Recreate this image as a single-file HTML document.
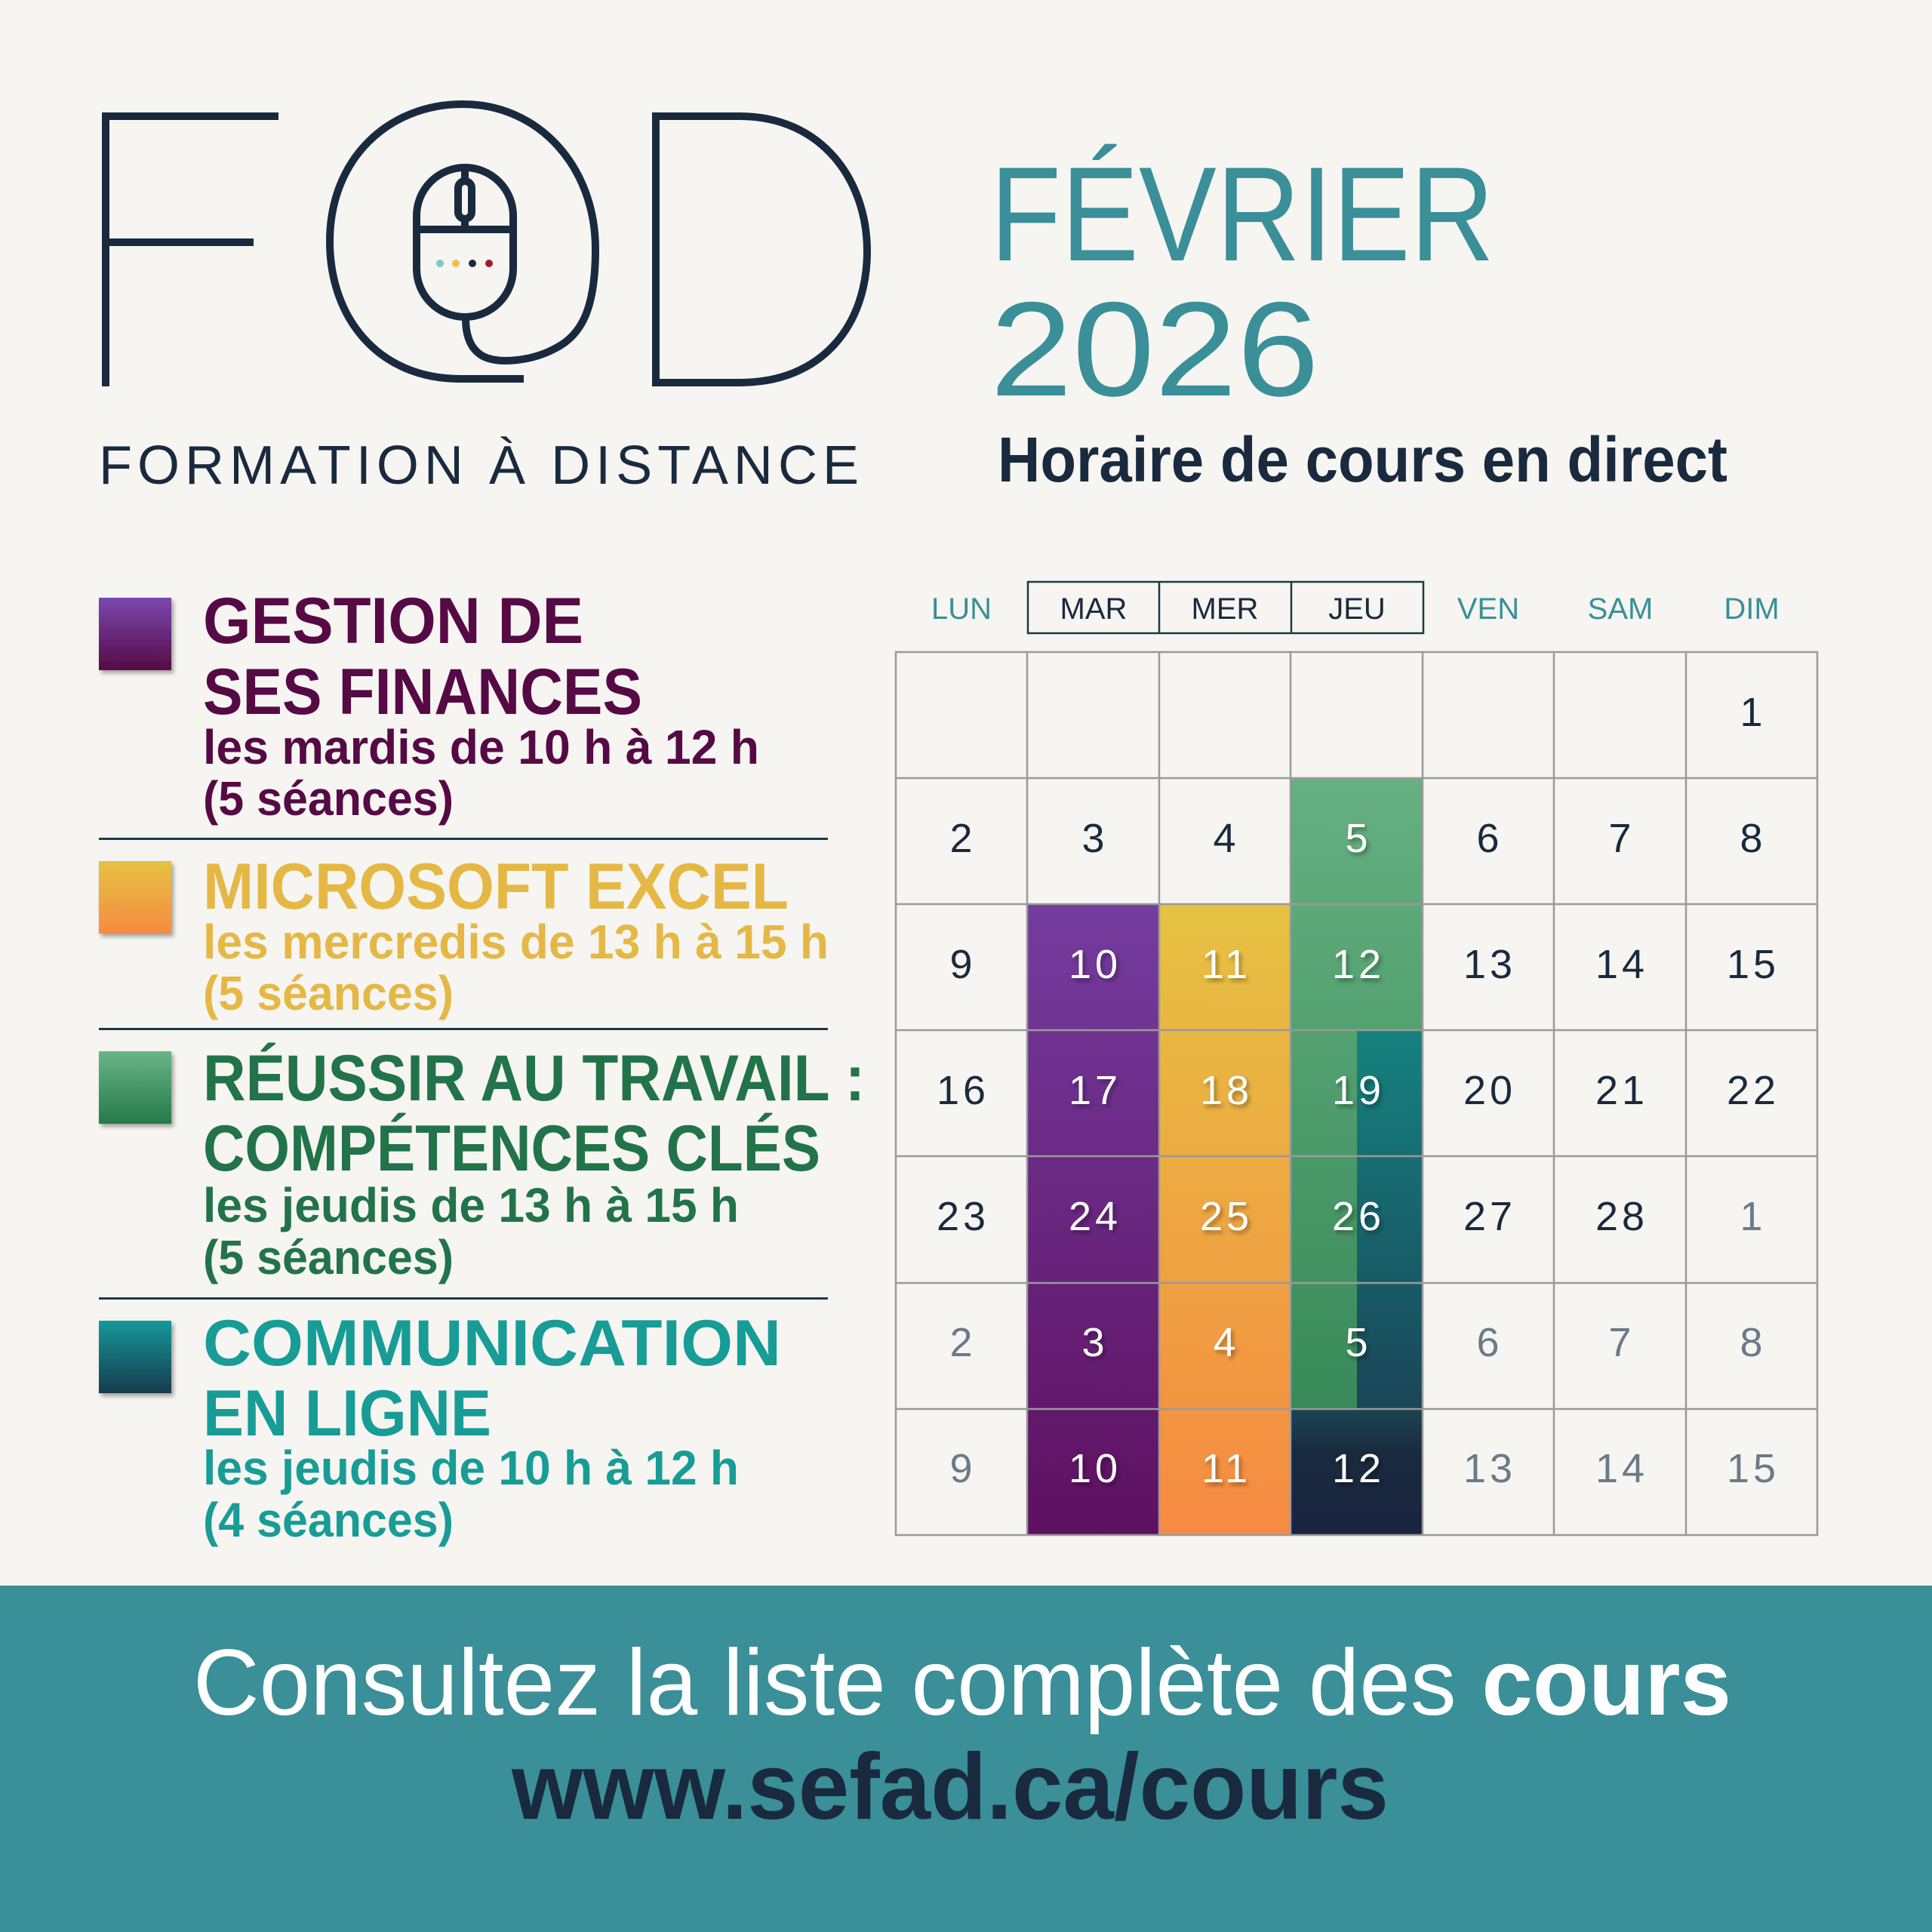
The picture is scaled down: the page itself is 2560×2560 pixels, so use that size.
<!DOCTYPE html>
<html><head><meta charset="utf-8"><style>
html,body{margin:0;padding:0;background:#f6f5f1;}
svg{display:block;}
text{font-family:"Liberation Sans",sans-serif;}
</style></head><body>
<svg width="2560" height="2560" viewBox="0 0 2560 2560" xmlns="http://www.w3.org/2000/svg">
<defs>
<linearGradient id="gp" x1="0" y1="0" x2="0" y2="1"><stop offset="0" stop-color="#743c9f"/><stop offset="1" stop-color="#5e1060"/></linearGradient>
<linearGradient id="gy" x1="0" y1="0" x2="0" y2="1"><stop offset="0" stop-color="#e6c242"/><stop offset="1" stop-color="#f68a42"/></linearGradient>
<linearGradient id="gg" x1="0" y1="0" x2="0" y2="1"><stop offset="0" stop-color="#66b082"/><stop offset="1" stop-color="#388a58"/></linearGradient>
<linearGradient id="gt" x1="0" y1="0" x2="0" y2="1"><stop offset="0" stop-color="#15827f"/><stop offset="1" stop-color="#1a4658"/></linearGradient>
<linearGradient id="gn" x1="0" y1="0" x2="0" y2="1"><stop offset="0" stop-color="#1b4452"/><stop offset="0.35" stop-color="#1a2a3e"/><stop offset="1" stop-color="#1a2540"/></linearGradient>
<linearGradient id="sp" x1="0" y1="0" x2="0" y2="1"><stop offset="0" stop-color="#7a48b0"/><stop offset="1" stop-color="#560a45"/></linearGradient>
<linearGradient id="sy" x1="0" y1="0" x2="0" y2="1"><stop offset="0" stop-color="#e6c242"/><stop offset="1" stop-color="#f68a42"/></linearGradient>
<linearGradient id="sg" x1="0" y1="0" x2="0" y2="1"><stop offset="0" stop-color="#6ab486"/><stop offset="1" stop-color="#247a48"/></linearGradient>
<linearGradient id="st" x1="0" y1="0" x2="0" y2="1"><stop offset="0" stop-color="#15989a"/><stop offset="1" stop-color="#193a4e"/></linearGradient>
<filter id="sh"><feDropShadow dx="3" dy="4" stdDeviation="3" flood-color="#000" flood-opacity="0.35"/></filter>
</defs>
<rect width="2560" height="2560" fill="#f6f5f1"/>

<g fill="none" stroke="#1a2a3e" stroke-width="10">
<path d="M140,512 V154 H369 M140,321 H336"/>
<path d="M869,512 V154 H980 C1090,154 1149,240 1149,333 C1149,430 1090,507 980,507 H869"/>
<path d="M694,502 L610,502 C500,502 437,420 437,320 C437,210 515,138 613,138 C715,138 789,222 789,330 C789,410 770,445 735,462 C705,478 662,483 640,472 C622,462 617,442 617,422"/>
<rect x="552" y="222" width="128" height="198" rx="64"/>
<path d="M552,304 H680 M616,222 V304"/>
<rect x="607" y="240" width="18" height="50" rx="9" fill="#f6f5f1"/>
</g>
<circle cx="583" cy="349" r="5" fill="#7ecac6"/>
<circle cx="604" cy="349" r="5" fill="#e9c24f"/>
<circle cx="626" cy="349" r="5" fill="#1a2a3e"/>
<circle cx="648" cy="349" r="5" fill="#a6192e"/>
<text x="131" y="641" font-size="72" fill="#1a2a3e" textLength="1007" lengthAdjust="spacing">FORMATION À DISTANCE</text>

<text x="1312" y="345" font-size="178" fill="#3a8f98" textLength="668" lengthAdjust="spacingAndGlyphs">FÉVRIER</text>
<text x="1312" y="524" font-size="178" fill="#3a8f98" textLength="436" lengthAdjust="spacingAndGlyphs">2026</text>
<text x="1322" y="638" font-size="84" font-weight="bold" fill="#1a2a3e" textLength="967" lengthAdjust="spacingAndGlyphs">Horaire de cours en direct</text>

<g font-weight="bold">
<rect x="131" y="792" width="96" height="96" fill="url(#sp)" filter="url(#sh)"/>
<text x="269" y="852" font-size="86" fill="#560a45" textLength="504" lengthAdjust="spacingAndGlyphs">GESTION DE</text>
<text x="269" y="946" font-size="86" fill="#560a45" textLength="582" lengthAdjust="spacingAndGlyphs">SES FINANCES</text>
<text x="269" y="1012" font-size="64" fill="#560a45" textLength="737" lengthAdjust="spacingAndGlyphs">les mardis de 10 h à 12 h</text>
<text x="269" y="1080" font-size="64" fill="#560a45" textLength="332" lengthAdjust="spacingAndGlyphs">(5 séances)</text>
<rect x="131" y="1110" width="966" height="3" fill="#1a3a48"/>

<rect x="131" y="1141" width="96" height="96" fill="url(#sy)" filter="url(#sh)"/>
<text x="269" y="1204" font-size="86" fill="#e5b846" textLength="776" lengthAdjust="spacingAndGlyphs">MICROSOFT EXCEL</text>
<text x="269" y="1270" font-size="64" fill="#e5b846" textLength="829" lengthAdjust="spacingAndGlyphs">les mercredis de 13 h à 15 h</text>
<text x="269" y="1338" font-size="64" fill="#e5b846" textLength="332" lengthAdjust="spacingAndGlyphs">(5 séances)</text>
<rect x="131" y="1362" width="966" height="3" fill="#1a3a48"/>

<rect x="131" y="1393" width="96" height="96" fill="url(#sg)" filter="url(#sh)"/>
<text x="269" y="1458" font-size="86" fill="#22734a" textLength="877" lengthAdjust="spacingAndGlyphs">RÉUSSIR AU TRAVAIL :</text>
<text x="269" y="1551" font-size="86" fill="#22734a" textLength="818" lengthAdjust="spacingAndGlyphs">COMPÉTENCES CLÉS</text>
<text x="269" y="1619" font-size="64" fill="#22734a" textLength="710" lengthAdjust="spacingAndGlyphs">les jeudis de 13 h à 15 h</text>
<text x="269" y="1688" font-size="64" fill="#22734a" textLength="332" lengthAdjust="spacingAndGlyphs">(5 séances)</text>
<rect x="131" y="1719" width="966" height="3" fill="#1a3a48"/>

<rect x="131" y="1750" width="96" height="96" fill="url(#st)" filter="url(#sh)"/>
<text x="269" y="1809" font-size="86" fill="#179c96" textLength="766" lengthAdjust="spacingAndGlyphs">COMMUNICATION</text>
<text x="269" y="1902" font-size="86" fill="#179c96" textLength="382" lengthAdjust="spacingAndGlyphs">EN LIGNE</text>
<text x="269" y="1967" font-size="64" fill="#179c96" textLength="710" lengthAdjust="spacingAndGlyphs">les jeudis de 10 h à 12 h</text>
<text x="269" y="2036" font-size="64" fill="#179c96" textLength="332" lengthAdjust="spacingAndGlyphs">(4 séances)</text>
</g>

<rect x="1362" y="1198" width="174" height="836" fill="url(#gp)"/>
<rect x="1536" y="1198" width="175" height="836" fill="url(#gy)"/>
<rect x="1711" y="1031" width="175" height="836" fill="url(#gg)"/>
<rect x="1798" y="1365" width="88" height="502" fill="url(#gt)"/>
<rect x="1711" y="1867" width="175" height="167" fill="url(#gn)"/>

<g stroke="#9a9a9a" stroke-width="2.5" fill="none">
<rect x="1187" y="864" width="1221" height="1170"/>
<path d="M1361,864V2034 M1536,864V2034 M1710,864V2034 M1885,864V2034 M2059,864V2034 M2234,864V2034"/>
<path d="M1187,1031H2408 M1187,1198H2408 M1187,1365H2408 M1187,1532H2408 M1187,1700H2408 M1187,1867H2408"/>
</g>
<g stroke="#1a3a48" stroke-width="2.5" fill="none">
<rect x="1362" y="771" width="524" height="68"/>
<path d="M1536,771V839 M1711,771V839"/>
</g>

<g font-size="40" text-anchor="middle">
<text x="1274" y="820" fill="#3a8f98">LUN</text>
<text x="1449" y="820" fill="#1a2a3e">MAR</text>
<text x="1623" y="820" fill="#1a2a3e">MER</text>
<text x="1798" y="820" fill="#1a2a3e">JEU</text>
<text x="1972" y="820" fill="#3a8f98">VEN</text>
<text x="2147" y="820" fill="#3a8f98">SAM</text>
<text x="2321" y="820" fill="#3a8f98">DIM</text>
</g>

<g font-size="54" text-anchor="middle" letter-spacing="5" fill="#1a2a3e">
<text x="2323" y="962">1</text>
<text x="1276" y="1129">2</text><text x="1451" y="1129">3</text><text x="1625" y="1129">4</text><text x="1974" y="1129">6</text><text x="2149" y="1129">7</text><text x="2323" y="1129">8</text>
<text x="1276" y="1296">9</text><text x="1974" y="1296">13</text><text x="2149" y="1296">14</text><text x="2323" y="1296">15</text>
<text x="1276" y="1463">16</text><text x="1974" y="1463">20</text><text x="2149" y="1463">21</text><text x="2323" y="1463">22</text>
<text x="1276" y="1630">23</text><text x="1974" y="1630">27</text><text x="2149" y="1630">28</text>
</g>
<g font-size="54" text-anchor="middle" letter-spacing="5" fill="#6a7a88">
<text x="2323" y="1630">1</text>
<text x="1276" y="1797">2</text><text x="1974" y="1797">6</text><text x="2149" y="1797">7</text><text x="2323" y="1797">8</text>
<text x="1276" y="1964">9</text><text x="1974" y="1964">13</text><text x="2149" y="1964">14</text><text x="2323" y="1964">15</text>
</g>
<g font-size="54" text-anchor="middle" letter-spacing="5" fill="#ffffff" filter="url(#sh)">
<text x="1800" y="1129">5</text>
<text x="1451" y="1296">10</text><text x="1625" y="1296">11</text><text x="1800" y="1296">12</text>
<text x="1451" y="1463">17</text><text x="1625" y="1463">18</text><text x="1800" y="1463">19</text>
<text x="1451" y="1630">24</text><text x="1625" y="1630">25</text><text x="1800" y="1630">26</text>
<text x="1451" y="1797">3</text><text x="1625" y="1797">4</text><text x="1800" y="1797">5</text>
<text x="1451" y="1964">10</text><text x="1625" y="1964">11</text><text x="1800" y="1964">12</text>
</g>

<rect x="0" y="2101" width="2560" height="459" fill="#3a8f98"/>
<text x="256" y="2272" font-size="124" fill="#ffffff" textLength="2038" lengthAdjust="spacingAndGlyphs">Consultez la liste complète des <tspan font-weight="bold">cours</tspan></text>
<text x="678" y="2410" font-size="124" font-weight="bold" fill="#1a2a3e" textLength="1162" lengthAdjust="spacingAndGlyphs">www.sefad.ca/cours</text>
</svg>
</body></html>
